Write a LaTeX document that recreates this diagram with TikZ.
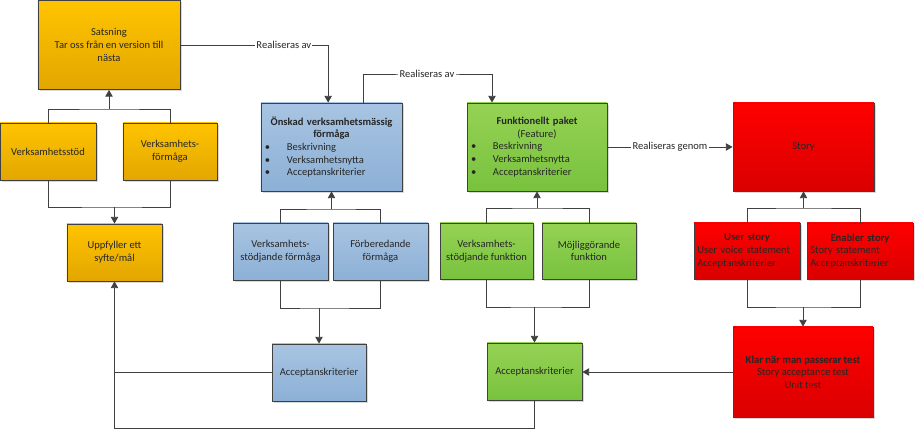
\documentclass[tikz,border=0pt]{standalone}
\usepackage{fontspec}
\setmainfont{Carlito}
\usetikzlibrary{arrows.meta,shadows}

\definecolor{linje}{HTML}{404040}
\definecolor{gulTopp}{HTML}{FFC400}
\definecolor{gulBotten}{HTML}{E2A600}
\definecolor{blaTopp}{HTML}{A8C4E2}
\definecolor{blaBotten}{HTML}{8CB0D6}
\definecolor{gronTopp}{HTML}{96D254}
\definecolor{gronBotten}{HTML}{78C23E}
\definecolor{rodTopp}{HTML}{FF0000}
\definecolor{rodBotten}{HTML}{DA0000}

\newcommand{\punkt}[1]{\makebox[\linewidth][l]{\hspace{0.02cm}\makebox[0.66cm][l]{\textbullet}#1}}
\newcommand{\vanster}[1]{\makebox[\linewidth][l]{#1}}

\begin{document}
\begin{tikzpicture}[x=0.03cm, y=-0.03cm,
    box/.style={draw=linje, line width=0.7pt, inner sep=0.1cm, align=center,
      text=black!85, font=\fontsize{9}{10.8}\selectfont,
      drop shadow={shadow xshift=0.06cm, shadow yshift=-0.06cm, fill=black!30, opacity=0.5}},
    gulbox/.style={box, top color=gulTopp, bottom color=gulBotten},
    blabox/.style={box, top color=blaTopp, bottom color=blaBotten},
    gronbox/.style={box, top color=gronTopp, bottom color=gronBotten},
    rodbox/.style={box, top color=rodTopp, bottom color=rodBotten},
    linjer/.style={draw=linje, line width=0.7pt},
    pil/.style={linjer, -{Triangle[length=0.2cm, width=0.22cm]}},
    etikett/.style={fill=white, inner sep=1pt, text=black!85, font=\fontsize{9}{10.8}\selectfont}]

    \useasboundingbox (0,0) rectangle (916,430);

    % Gula noder
    \node[gulbox, minimum width=4.26cm, minimum height=2.67cm] (satsning) at (109,45) {Satsning\\Tar oss från en version till\\nästa};
    \node[gulbox, minimum width=2.88cm, minimum height=1.71cm] (vstod) at (48,151.5) {Verksamhetsstöd};
    \node[gulbox, minimum width=2.82cm, minimum height=1.71cm] (vform) at (170,151.5) {Verksamhets-\\förmåga};
    \node[gulbox, minimum width=2.85cm, minimum height=1.71cm] (uppfyller) at (114.5,252.5) {Uppfyller ett\\syfte/mål};

    % Blå noder
    \node[blabox, text width=4.03cm, minimum height=2.64cm] (onskad) at (331.5,147) {\textbf{Önskad verksamhetsmässig}\\\textbf{förmåga}\\\punkt{Beskrivning}\\\punkt{Verksamhetsnytta}\\\punkt{Acceptanskriterier}};
    \node[blabox, minimum width=2.85cm, minimum height=1.71cm] (bstod) at (280.5,251.5) {Verksamhets-\\stödjande förmåga};
    \node[blabox, minimum width=2.85cm, minimum height=1.71cm] (forb) at (380.5,251.5) {Förberedande\\förmåga};
    \node[blabox, minimum width=2.82cm, minimum height=1.71cm] (bacc) at (319,372.5) {Acceptanskriterier};

    % Gröna noder
    \node[gronbox, text width=4.0cm, minimum height=2.64cm] (funk) at (537,147) {\textbf{Funktionellt paket}\\(Feature)\\\punkt{Beskrivning}\\\punkt{Verksamhetsnytta}\\\punkt{Acceptanskriterier}};
    \node[gronbox, minimum width=2.79cm, minimum height=1.68cm] (gstod) at (486.5,251) {Verksamhets-\\stödjande funktion};
    \node[gronbox, minimum width=2.82cm, minimum height=1.68cm] (mojl) at (589,251) {Möjliggörande\\funktion};
    \node[gronbox, minimum width=2.85cm, minimum height=1.71cm] (gacc) at (534.5,371.5) {Acceptanskriterier};

    % Röda noder
    \node[rodbox, minimum width=4.23cm, minimum height=2.64cm] (story) at (803.5,147) {Story};
    \node[rodbox, text width=2.98cm, minimum height=1.68cm] (user) at (747,251) {\textbf{User story}\\\vanster{User voice statement}\\\vanster{Acceptanskriterier}};
    \node[rodbox, text width=2.98cm, minimum height=1.68cm] (enabler) at (860,251) {\textbf{Enabler story}\\\vanster{Story statement}\\\vanster{Acceptanskriterier}};
    \node[rodbox, minimum width=4.2cm, minimum height=2.7cm] (klar) at (803,372) {\textbf{Klar när man passerar test}\\Story acceptance test\\Unit test};

    % Kopplingar, gul del
    \coordinate (gj1) at (109,109);
    \coordinate (gj2) at (114.5,207);
    \draw[linjer] (vstod.north) |- (gj1) -| (vform.north);
    \draw[pil] (gj1) -- (satsning.south);
    \draw[linjer] (vstod.south) |- (gj2) -| (vform.south);
    \draw[pil] (gj2) -- (uppfyller.north);

    % Kopplingar, blå del
    \coordinate (bj1) at (331.5,209);
    \coordinate (bj2) at (319,308);
    \draw[linjer] (bstod.north) |- (bj1) -| (forb.north);
    \draw[pil] (bj1) -- (onskad.south);
    \draw[linjer] (bstod.south) |- (bj2) -| (forb.south);
    \draw[pil] (bj2) -- (bacc.north);

    % Kopplingar, grön del
    \coordinate (fj1) at (537,208);
    \coordinate (fj2) at (534.5,307);
    \draw[linjer] (gstod.north) |- (fj1) -| (mojl.north);
    \draw[pil] (fj1) -- (funk.south);
    \draw[linjer] (gstod.south) |- (fj2) -| (mojl.south);
    \draw[pil] (fj2) -- (gacc.north);

    % Kopplingar, röd del
    \coordinate (rj1) at (803.5,208);
    \coordinate (rj2) at (803,307);
    \draw[linjer] (user.north) |- (rj1) -| (enabler.north);
    \draw[pil] (rj1) -- (story.south);
    \draw[linjer] (user.south) |- (rj2) -| (enabler.south);
    \draw[pil] (rj2) -- (klar.north);

    % Realiseras
    \coordinate (real2) at (427,74);
    \draw[pil] (satsning.east) -| node[etikett, pos=0.35] {Realiseras av} ([xshift=-0.1cm]onskad.north);
    \draw[pil] ([xshift=0.945cm]onskad.north) |- (real2) node[etikett] {Realiseras av} -| ([xshift=-1.35cm]funk.north);
    \draw[pil] (funk.east) -- node[etikett] {Realiseras genom} (story.west);

    % Acceptans tillbaka
    \coordinate (botten) at (114.5,428);
    \draw[pil] (klar.west) -- (klar.west -| gacc.east);
    \draw[pil] (gacc.south) |- (botten) -- (uppfyller.south);
    \draw[linjer] (bacc.west) -- (bacc.west -| uppfyller.south);

\end{tikzpicture}
\end{document}
